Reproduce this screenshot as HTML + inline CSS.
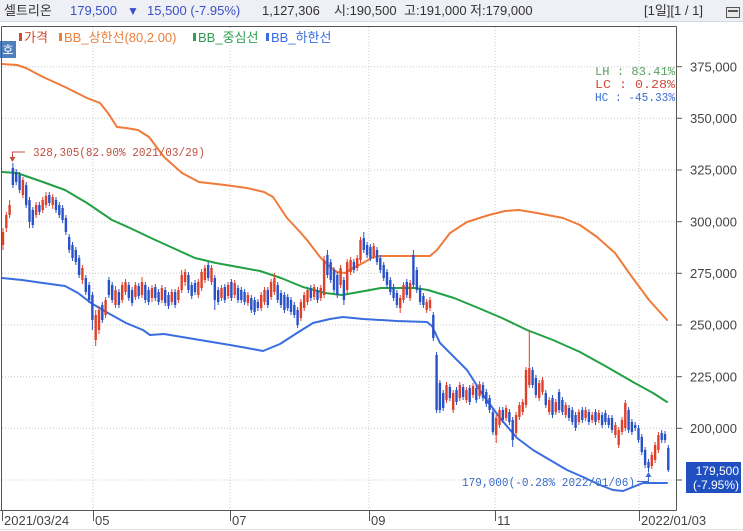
<!DOCTYPE html>
<html><head><meta charset="utf-8"><style>
html,body{margin:0;padding:0;background:#fff;width:743px;height:531px;overflow:hidden}
svg{display:block}
text{font-family:"Liberation Sans","Noto Sans CJK KR",sans-serif}
.m{font-family:"Liberation Mono","Noto Sans CJK KR",monospace}
</style></head><body>
<svg width="743" height="531" viewBox="0 0 743 531" xmlns="http://www.w3.org/2000/svg">
<rect x="0" y="0" width="743" height="531" fill="#fff"/>
<!-- header -->
<rect x="0" y="0" width="743" height="21" fill="#eef0f6"/>
<line x1="0" y1="21.5" x2="743" y2="21.5" stroke="#d4d8e2"/>
<g font-size="13" fill="#333">
<text x="4" y="15">셀트리온</text>
<text x="70" y="15" fill="#3a4fc8">179,500</text>
<text x="127" y="15" fill="#3a4fc8" font-size="12">▼</text>
<text x="147" y="15" fill="#3a4fc8">15,500 (-7.95%)</text>
<text x="262" y="15">1,127,306</text>
<text x="334" y="15">시:190,500</text>
<text x="404" y="15">고:191,000</text>
<text x="470" y="15">저:179,000</text>
<text x="644" y="15">[1일][1 / 1]</text>
</g>
<rect x="726.5" y="7.5" width="13" height="10" fill="#e8e8e8" stroke="#555"/>
<line x1="728" y1="11" x2="738" y2="11" stroke="#555" stroke-width="2"/>

<!-- grid -->
<g stroke="#c8c8c8" stroke-dasharray="1 2" stroke-width="1">
<line x1="93" y1="27" x2="93" y2="510"/>
<line x1="230" y1="27" x2="230" y2="510"/>
<line x1="369" y1="27" x2="369" y2="510"/>
<line x1="495" y1="27" x2="495" y2="510"/>
<line x1="639" y1="27" x2="639" y2="510"/>
<line x1="2" y1="66.7" x2="676" y2="66.7"/>
<line x1="2" y1="118.3" x2="676" y2="118.3"/>
<line x1="2" y1="170" x2="676" y2="170"/>
<line x1="2" y1="221.7" x2="676" y2="221.7"/>
<line x1="2" y1="273.3" x2="676" y2="273.3"/>
<line x1="2" y1="325" x2="676" y2="325"/>
<line x1="2" y1="376.7" x2="676" y2="376.7"/>
<line x1="2" y1="428.3" x2="676" y2="428.3"/>
<line x1="2" y1="480" x2="676" y2="480"/>
</g>

<!-- bands -->
<g fill="none" stroke-width="2" stroke-linejoin="round" stroke-linecap="round">
<polyline stroke="#f07a3a" points="2,64 17,65 26,68 43,77 65,87 87,98 100,103 108,113 117,127 126,128 138,130 149,137 164,157 182,173 199,182 225,185 247,188 264,192 273,197 287,218 300,232 307,240 320,257 330,267 337,272 345,273 353,268 363,263 373,257 381,256 430,256 437,250 450,233 467,222 489,215 505,211 519,210 537,213 563,218 580,225 597,237 615,253 632,277 649,300 667,320"/>
<polyline stroke="#22a044" points="2,172 17,173 43,182 65,190 87,203 112,220 130,228 151,238 173,248 195,258 216,263 238,267 260,271 281,278 303,287 325,293 342,295 359,292 381,288 415,288 428,290 454,298 476,307 502,318 527,330 553,340 580,352 607,367 633,382 653,393 667,402"/>
<polyline stroke="#3a6ee0" points="2,278 22,280 43,283 65,286 78,293 91,303 108,313 126,323 143,330 150,335 164,334 200,340 230,345 247,348 263,351 280,344 297,333 313,323 330,319 343,317 363,319 397,321 427,322 432,326 440,343 450,353 467,370 483,395 500,418 517,438 533,450 550,460 567,470 583,477 600,485 613,490 623,491 633,487 643,483 667,483"/>
</g>

<!-- candles -->
<path fill="none" stroke="#e0402a" stroke-width="1" d="M3 228V250M6.3 212V232M9.6 200V218M22.9 177V198M36.1 202V218M42.7 197V213M46 192V208M52.7 194V209M82.4 265V284M95.7 310V346M99 306V334M105.6 297V318M115.5 286V308M122.2 282V303M125.5 279V295M135.4 282V300M142 277V298M152 285V302M161.9 285V303M171.8 289V305M178.4 287V303M181.7 270V293M185.1 269V286M198.3 279V298M201.6 269V291M204.9 265V283M211.5 265V285M221.5 285V301M228.1 282V299M234.7 280V298M247.9 292V306M261.2 292V311M264.5 287V305M271.1 279V300M274.4 273V295M300.9 299V321M304.2 292V311M307.5 287V305M314.1 284V300M320.8 285V301M324.1 256V298M340.6 265V288M347.2 259V293M350.6 257V275M357.2 255V271M360.5 237V263M373.7 243V259M400.2 295V313M403.5 282V303M410.1 280V301M426.7 299V313M430 297V311M446.5 382V403M453.2 390V413M459.8 382V401M466.4 387V403M473 383V398M479.6 381V399M496.2 415V443M499.5 407V428M506.1 405V421M516.1 412V436M519.4 402V420M522.7 399V415M526 367V408M529.3 330V388M539.2 380V401M542.5 377V395M549.2 397V415M555.8 399V415M565.7 402V418M578.9 409V425M585.6 407V421M592.2 412V423M598.8 410V423M615.4 422V438M618.7 427V448M622 417V435M625.3 400V431M651.8 452V469M655.1 442V463M658.4 432V453"/>
<path fill="none" stroke="#e0402a" stroke-width="2.4" d="M3 232V245M6.3 215V228M9.6 205V215M22.9 180V195M36.1 205V215M42.7 200V210M46 196V205M52.7 197V205M82.4 268V280M95.7 315V340M99 310V330M105.6 300V315M115.5 290V305M122.2 285V300M125.5 282V292M135.4 285V297M142 282V295M152 288V298M161.9 288V300M171.8 292V302M178.4 290V300M181.7 275V290M185.1 272V282M198.3 282V295M201.6 272V288M204.9 268V280M211.5 268V282M221.5 288V298M228.1 285V296M234.7 283V295M247.9 295V303M261.2 295V308M264.5 290V302M271.1 282V297M274.4 278V292M300.9 302V318M304.2 295V308M307.5 290V302M314.1 287V297M320.8 288V298M324.1 260V295M340.6 268V285M347.2 262V290M350.6 260V272M357.2 258V268M360.5 240V260M373.7 246V256M400.2 298V308M403.5 285V300M410.1 283V298M426.7 302V310M430 300V308M446.5 385V400M453.2 393V410M459.8 385V398M466.4 390V400M473 386V395M479.6 384V396M496.2 418V435M499.5 410V425M506.1 408V418M516.1 415V433M519.4 405V417M522.7 402V412M526 370V405M529.3 368V385M539.2 383V398M542.5 380V392M549.2 400V412M555.8 402V412M565.7 405V415M578.9 412V422M585.6 410V418M592.2 415V420M598.8 413V420M615.4 425V435M618.7 430V445M622 420V432M625.3 403V428M651.8 455V466M655.1 445V460M658.4 435V450"/>
<path fill="none" stroke="#2a52c8" stroke-width="1" d="M12.9 163V188M16.2 169V185M19.6 172V193M26.2 182V208M29.5 197V228M32.8 207V228M39.4 202V215M49.3 192V206M56 197V213M59.3 202V218M62.6 205V223M65.9 215V235M69.2 234V253M72.5 242V261M75.8 247V265M79.1 255V278M85.8 275V295M89.1 282V303M92.4 292V330M102.3 302V323M108.9 277V298M112.2 282V303M118.9 289V308M128.8 282V301M132.1 287V306M138.7 283V299M145.3 282V303M148.6 287V305M155.3 284V301M158.6 289V305M165.2 287V306M168.5 292V309M175.1 289V308M188.4 272V293M191.7 282V299M195 280V295M208.2 262V281M214.8 275V310M218.2 287V305M224.8 284V303M231.4 279V301M238 285V303M241.3 287V303M244.6 289V305M251.3 295V313M254.6 297V315M257.9 299V311M267.8 287V308M277.7 282V303M281 290V308M284.4 292V313M287.7 294V311M291 297V315M294.3 302V318M297.6 307V328M310.8 285V301M317.5 287V303M327.4 250V278M330.7 259V283M334 267V293M337.3 272V298M343.9 277V305M353.9 259V273M363.8 232V253M367.1 242V258M370.4 244V261M377 247V265M380.3 255V273M383.7 262V281M387 269V288M390.3 277V295M393.6 284V301M396.9 290V308M406.8 279V298M413.4 250V288M416.8 267V293M420.1 285V305M423.4 293V308M433.3 312V341M436.6 352V413M439.9 380V413M443.2 390V411M449.9 384V401M456.5 387V405M463.1 384V400M469.7 385V405M476.3 385V403M483 382V401M486.3 389V407M489.6 395V413M492.9 409V435M502.8 407V423M509.4 409V425M512.7 417V447M532.6 367V388M535.9 375V398M545.8 390V408M552.5 395V418M559.1 389V413M562.4 397V415M569 405V421M572.3 407V425M575.6 412V431M582.3 407V423M588.9 409V425M595.5 409V425M602.1 412V428M605.4 410V425M608.7 415V428M612 415V433M628.6 407V433M631.9 419V435M635.2 422V431M638.5 425V443M641.8 434V455M645.1 447V468M648.5 459V472M661.7 430V443M665 431V443M668.3 445V472"/>
<path fill="none" stroke="#2a52c8" stroke-width="2.4" d="M12.9 168V185M16.2 172V182M19.6 175V190M26.2 185V205M29.5 200V222M32.8 210V225M39.4 205V212M49.3 195V203M56 200V210M59.3 205V215M62.6 208V220M65.9 218V232M69.2 237V250M72.5 245V258M75.8 250V262M79.1 258V275M85.8 278V292M89.1 285V300M92.4 295V320M102.3 305V320M108.9 280V295M112.2 285V300M118.9 292V305M128.8 285V298M132.1 290V303M138.7 286V296M145.3 285V300M148.6 290V302M155.3 287V298M158.6 292V302M165.2 290V303M168.5 295V306M175.1 292V305M188.4 275V290M191.7 285V296M195 283V292M208.2 265V278M214.8 278V300M218.2 290V302M224.8 287V300M231.4 282V298M238 288V300M241.3 290V300M244.6 292V302M251.3 298V310M254.6 300V312M257.9 302V308M267.8 290V305M277.7 285V300M281 293V305M284.4 295V310M287.7 297V308M291 300V312M294.3 305V315M297.6 310V325M310.8 288V298M317.5 290V300M327.4 255V275M330.7 262V280M334 270V290M337.3 275V295M343.9 280V300M353.9 262V270M363.8 238V250M367.1 245V255M370.4 247V258M377 250V262M380.3 258V270M383.7 265V278M387 272V285M390.3 280V292M393.6 287V298M396.9 293V305M406.8 282V295M413.4 255V285M416.8 270V290M420.1 288V302M423.4 296V305M433.3 315V338M436.6 355V410M439.9 383V410M443.2 393V408M449.9 387V398M456.5 390V402M463.1 387V397M469.7 388V402M476.3 388V400M483 385V398M486.3 392V404M489.6 398V410M492.9 412V432M502.8 410V420M509.4 412V422M512.7 420V440M532.6 370V385M535.9 378V395M545.8 393V405M552.5 398V415M559.1 392V410M562.4 400V412M569 408V418M572.3 410V422M575.6 415V428M582.3 410V420M588.9 412V422M595.5 412V422M602.1 415V425M605.4 413V422M608.7 418V425M612 418V430M628.6 410V430M631.9 422V432M635.2 425V428M638.5 428V440M641.8 437V452M645.1 450V465M648.5 462V468M661.7 433V440M665 434V440M668.3 448V470"/>

<!-- annotations -->
<g stroke="#c05040" fill="none" stroke-width="1">
<polyline points="25,152 12.5,152 12.5,158"/>
</g>
<polygon points="9.5,157 15.5,157 12.5,162" fill="#c05040"/>
<text class="m" x="33" y="156" font-size="12" fill="#c05040" textLength="172" lengthAdjust="spacingAndGlyphs">328,305(82.90% 2021/03/29)</text>

<g stroke="#3a6ec8" fill="none" stroke-width="1">
<polyline points="637,481.5 648.5,481.5 648.5,476"/>
</g>
<polygon points="645.5,477 651.5,477 648.5,472" fill="#3a6ec8"/>
<text class="m" x="462" y="486" font-size="12" fill="#3a6ec8" textLength="173" lengthAdjust="spacingAndGlyphs">179,000(-0.28% 2022/01/06)</text>

<!-- LH LC HC -->
<g class="m" font-size="12" text-anchor="end">
<text class="m" x="675" y="75" fill="#5aa060" textLength="80" lengthAdjust="spacingAndGlyphs">LH :  83.41%</text>
<text class="m" x="675" y="88" fill="#d04a3a" textLength="80" lengthAdjust="spacingAndGlyphs">LC :   0.28%</text>
<text class="m" x="675" y="101" fill="#3a6ed0" textLength="80" lengthAdjust="spacingAndGlyphs">HC : -45.33%</text>
</g>

<!-- legend -->
<g font-size="13">
<rect x="19" y="33" width="3" height="8" fill="#d04a30"/>
<text x="24" y="42" fill="#d04a30">가격</text>
<rect x="59" y="33" width="3" height="8" fill="#e8803c"/>
<text x="64" y="42" fill="#e8803c">BB_상한선(80,2.00)</text>
<rect x="193" y="33" width="3" height="8" fill="#2e9e50"/>
<text x="198" y="42" fill="#2e9e50">BB_중심선</text>
<rect x="266" y="33" width="3" height="8" fill="#3a6ee0"/>
<text x="271" y="42" fill="#3a6ee0">BB_하한선</text>
</g>
<rect x="0" y="41" width="16" height="17" fill="#4f7fbf"/>
<text x="8" y="54" font-size="12" fill="#fff" text-anchor="middle">호</text>

<!-- frame -->
<g stroke="#555" stroke-width="1" fill="none">
<line x1="1.5" y1="26.5" x2="676.5" y2="26.5"/>
<line x1="1.5" y1="26.5" x2="1.5" y2="510.5"/>
<line x1="676.5" y1="26.5" x2="676.5" y2="510.5"/>
<line x1="0" y1="510.5" x2="676.5" y2="510.5"/>
</g>

<!-- right axis -->
<g stroke="#555" stroke-width="1">
<line x1="676" y1="66.7" x2="682" y2="66.7"/>
<line x1="676" y1="118.3" x2="682" y2="118.3"/>
<line x1="676" y1="170" x2="682" y2="170"/>
<line x1="676" y1="221.7" x2="682" y2="221.7"/>
<line x1="676" y1="273.3" x2="682" y2="273.3"/>
<line x1="676" y1="325" x2="682" y2="325"/>
<line x1="676" y1="376.7" x2="682" y2="376.7"/>
<line x1="676" y1="428.3" x2="682" y2="428.3"/>
<line x1="676" y1="480" x2="682" y2="480"/>
</g>
<g font-size="13" fill="#444" text-anchor="end">
<text x="737" y="71.5">375,000</text>
<text x="737" y="123">350,000</text>
<text x="737" y="174.7">325,000</text>
<text x="737" y="226.4">300,000</text>
<text x="737" y="278">275,000</text>
<text x="737" y="329.7">250,000</text>
<text x="737" y="381.4">225,000</text>
<text x="737" y="433">200,000</text>
</g>
<rect x="686" y="462" width="55" height="31" fill="#2050c0"/>
<g font-size="12" fill="#fff" text-anchor="end">
<text x="739" y="475">179,500</text>
<text x="739" y="489">(-7.95%)</text>
</g>

<!-- bottom axis -->
<g stroke="#555" stroke-width="1">
<line x1="2.5" y1="510" x2="2.5" y2="521"/>
<line x1="93.5" y1="510" x2="93.5" y2="521"/>
<line x1="230.5" y1="510" x2="230.5" y2="521"/>
<line x1="369.5" y1="510" x2="369.5" y2="521"/>
<line x1="495.5" y1="510" x2="495.5" y2="521"/>
<line x1="639.5" y1="510" x2="639.5" y2="521"/>
</g>
<g font-size="13" fill="#444">
<text x="4" y="525">2021/03/24</text>
<text x="95" y="525">05</text>
<text x="232" y="525">07</text>
<text x="371" y="525">09</text>
<text x="497" y="525">11</text>
<text x="641" y="525">2022/01/03</text>
</g>
<line x1="0" y1="529.5" x2="743" y2="529.5" stroke="#e4e4e4"/>
</svg>
</body></html>
